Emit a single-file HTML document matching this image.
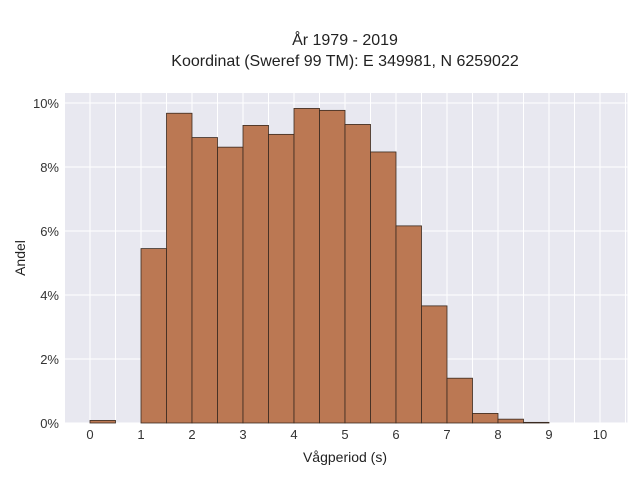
<!DOCTYPE html>
<html><head><meta charset="utf-8"><style>
body{margin:0;background:#fff;font-family:"Liberation Sans",sans-serif}
</style></head><body>
<svg width="640" height="480" xmlns="http://www.w3.org/2000/svg" font-family="Liberation Sans, sans-serif">
<text x="345" y="45" text-anchor="middle" font-size="16" fill="#222">År 1979 - 2019</text>
<text x="345" y="66" text-anchor="middle" font-size="16" fill="#222">Koordinat (Sweref 99 TM): E 349981, N 6259022</text>
<rect x="64.5" y="93" width="563" height="330" fill="#e8e8f0"/>
<g id="grid"></g><g id="bars"></g><g id="ticks"></g>
<text x="345" y="462" text-anchor="middle" font-size="14" fill="#222">Vågperiod (s)</text>
<text transform="translate(25,258) rotate(-90)" text-anchor="middle" font-size="14" fill="#222">Andel</text>
</svg>
<script>
const binStarts=[0,0.5,1,1.5,2,2.5,3,3.5,4,4.5,5,5.5,6,6.5,7,7.5,8,8.5];
const shares=[0.08,0,5.45,9.68,8.92,8.62,9.3,9.02,9.83,9.77,9.33,8.47,6.16,3.66,1.4,0.3,0.12,0.02];
const xTicks=[0,1,2,3,4,5,6,7,8,9,10];
const yTicks=[0,2,4,6,8,10];
const binWidth=0.5;
const X=v=>90+v*51, Y=v=>423-v*32;
const ns="http://www.w3.org/2000/svg";
const g=document.getElementById('grid'),b=document.getElementById('bars'),t=document.getElementById('ticks');
function mk(tag,attrs,parent){const e=document.createElementNS(ns,tag);for(const k in attrs)e.setAttribute(k,attrs[k]);parent.appendChild(e);return e;}
for(let v=-0.5;v<=10.5;v+=0.5){const l=mk('line',{x1:X(v),x2:X(v),y1:93,y2:423,stroke:'#fff','stroke-width':1},g);

}
yTicks.forEach(v=>{const l=mk('line',{x1:64.5,x2:627.5,y1:Y(v),y2:Y(v),stroke:'#fff','stroke-width':1},g);


const tx=mk('text',{x:59,y:Y(v)+5,'text-anchor':'end','font-size':13,fill:'#333'},t);tx.textContent=v+'%';

});
xTicks.forEach(v=>{const tx=mk('text',{x:X(v),y:439,'text-anchor':'middle','font-size':13,fill:'#333'},t);tx.textContent=v;

});
binStarts.forEach((s,i)=>{const v=shares[i];if(v<=0)return;const r=mk('rect',{x:X(s),y:Y(v),width:X(s+binWidth)-X(s),height:Y(0)-Y(v),fill:'#bb7853',stroke:'#3a2a20','stroke-width':0.8},b);

});
</script>
</body></html>
